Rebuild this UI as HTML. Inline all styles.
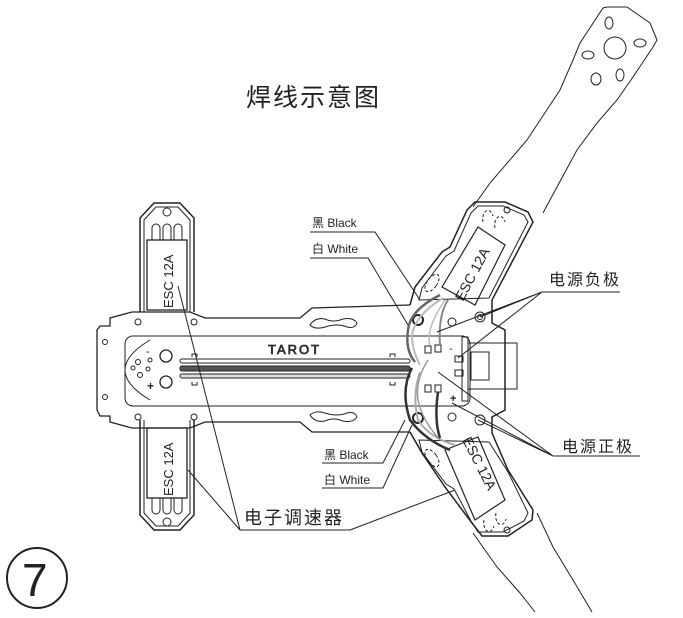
<!DOCTYPE html>
<html><head><meta charset="utf-8"><style>
html,body{margin:0;padding:0;background:#fff;}
svg{display:block}
text{font-family:"Liberation Sans","Noto Sans CJK SC",sans-serif;fill:#222}
</style></head><body>
<svg width="683" height="618" viewBox="0 0 683 618" xmlns="http://www.w3.org/2000/svg" fill="none" stroke="#222" stroke-width="1">
<text x="246" y="106" font-size="25" stroke="none" letter-spacing="2">焊线示意图</text>

<path d="M473,207 L490,183 L527,140 L560,90 L573,60 L580,43 L603,8 L607,7 L627,7 L650,23 L657,40 L653,47 L633,77 L617,100 L597,123 L577,150 L557,187 L543,213"/>
<circle cx="615" cy="48" r="11"/><ellipse cx="609" cy="23" rx="4" ry="6"/><ellipse cx="640" cy="43" rx="6" ry="4"/>
<ellipse cx="588" cy="55" rx="6" ry="4"/><ellipse cx="596" cy="79" rx="5" ry="6"/><ellipse cx="620" cy="75" rx="4" ry="6"/>
<path d="M473,533 L497,567 L520,593 L535,612"/>
<path d="M537,513 L553,547 L573,580 L592,612"/>

<path d="M140,312 L140,218 L154,203 L180,203 L194,218 L194,312" stroke-width="1.5"/>
<path d="M144,312 L144,220 L156,207 L178,207 L190,220 L190,312"/>
<circle cx="167" cy="212" r="4"/>
<path d="M152,240 v-12 a4,4 0 0 1 8,0 v12 M163,240 v-12 a4,4 0 0 1 8,0 v12 M174,240 v-12 a4,4 0 0 1 8,0 v12"/>
<rect x="147" y="240" width="40" height="70" stroke-width="1.3"/>
<text transform="translate(173,308) rotate(-90)" font-size="13" stroke="none">ESC 12A</text>
<path d="M140,420 L140,515 L154,530 L180,530 L194,515 L194,420" stroke-width="1.5"/>
<path d="M144,420 L144,513 L156,526 L178,526 L190,513 L190,420"/>
<circle cx="167" cy="522" r="4"/>
<path d="M152,498 v12 a4,4 0 0 0 8,0 v-12 M163,498 v12 a4,4 0 0 0 8,0 v-12 M174,498 v12 a4,4 0 0 0 8,0 v-12"/>
<rect x="147" y="428" width="40" height="70" stroke-width="1.3"/>
<text transform="translate(173,496) rotate(-90)" font-size="13" stroke="none">ESC 12A</text>

<path d="M410,305 L312,308 L300,318 L205,318 L190,312 L132,312 L110,318 L110,326 L100,326 L97,330 L97,410 L100,416 L110,416 L110,422 L132,428 L190,428 L205,422 L300,422 L312,432 L410,432" stroke-width="1.3"/>
<path d="M410,305 L415,287 L442,252 L450,247 L467,210 L475,202 L505,202 L528,212 L533,222 L512,262 L492,300 L492,323 L505,330 L505,410 L492,417 L492,433 L508,470 L533,510 L532,520 L508,536 L482,536 L472,523 L445,487 L422,453 L410,432" stroke-width="1.5"/>
<path d="M419,300 L422,288 L446,256 L454,251 L471,213 L478,206 L503,206 L524,215 L528,222 L508,261 L489,298 Z"/>
<path d="M419,440 L422,452 L446,484 L454,489 L471,521 L478,532 L503,532 L524,521 L528,513 L508,472 L489,442 Z"/>
<polygon points="478,227 505,245 475,305 442,287" stroke-width="1.2"/>
<polygon points="445,450 478,437 505,500 475,520" stroke-width="1.2"/>
<text transform="translate(463,302) rotate(-62)" font-size="14" stroke="none">ESC 12A</text>
<text transform="translate(462,440) rotate(63)" font-size="14" stroke="none">ESC 12A</text>
<ellipse cx="432" cy="283" rx="5" ry="10" transform="rotate(35 432 283)" stroke-dasharray="3,2"/>
<ellipse cx="432" cy="458" rx="5" ry="10" transform="rotate(-35 432 458)" stroke-dasharray="3,2"/>
<path d="M483,222 a5,8 0 0 1 10,-6 M495,228 a5,8 0 0 1 10,-6" stroke-dasharray="3,2"/>
<path d="M484,520 a5,8 0 0 0 10,6 M496,513 a5,8 0 0 0 10,6" stroke-dasharray="3,2"/>
<circle cx="507" cy="210" r="3"/><circle cx="507" cy="530" r="3"/>

<rect x="125" y="336" width="345" height="70" rx="8"/>
<circle cx="138" cy="322" r="3"/><circle cx="194" cy="322" r="3"/><circle cx="138" cy="417" r="3"/><circle cx="194" cy="417" r="3"/>
<circle cx="105" cy="342" r="2.5"/><circle cx="105" cy="397" r="2.5"/>
<path d="M310,325 q5,-8 15,-6 q8,4 18,0 q10,-2 14,4 q-2,6 -10,4 q-10,-4 -22,0 q-10,3 -15,-2z"/>
<path d="M310,415 q5,8 15,6 q8,-4 18,0 q10,2 14,-4 q-2,-6 -10,-4 q-10,4 -22,0 q-10,-3 -15,2z"/>
<path d="M150,340 Q125,355 125,370 Q125,385 150,400"/>
<circle cx="166" cy="356" r="6" stroke-width="1.3"/><circle cx="166" cy="382" r="6" stroke-width="1.3"/>
<circle cx="138" cy="362" r="2.5"/><circle cx="140" cy="375" r="2.5"/><circle cx="133" cy="368" r="2"/><circle cx="148" cy="369" r="2"/><circle cx="150" cy="360" r="2"/>
<text x="146" y="355" font-size="11" stroke="none">-</text>
<text x="147" y="390" font-size="12" stroke="none" font-weight="bold">+</text>
<text x="268" y="354" font-size="13" letter-spacing="2" fill="none" stroke="#333" stroke-width="0.8">TAROT</text>
<rect x="180" y="359" width="230" height="4" rx="2"/>
<rect x="180" y="366" width="230" height="5" fill="#555" rx="2"/>
<rect x="180" y="374" width="230" height="4" rx="2" fill="#ddd"/>
<path d="M192,357 v-3 h5 v3 M192,382 v3 h5 v-3 M390,357 v-3 h5 v3 M390,382 v3 h5 v-3"/>

<rect x="462" y="337" width="6" height="64"/>
<rect x="468" y="343" width="49" height="46"/>
<rect x="471" y="352" width="18" height="28"/>
<rect x="455" y="356" width="8" height="6"/><rect x="455" y="370" width="8" height="6"/>
<text x="449" y="352" font-size="11" stroke="none">-</text>
<text x="450" y="402" font-size="11" stroke="none" font-weight="bold">+</text>
<rect x="425" y="346" width="6" height="7"/><rect x="435" y="345" width="6" height="7"/>
<rect x="425" y="385" width="6" height="7"/><rect x="435" y="385" width="6" height="7"/>
<circle cx="418" cy="320" r="5" stroke-width="2"/><circle cx="418" cy="418" r="5" stroke-width="2"/>
<circle cx="452" cy="322" r="4"/><circle cx="452" cy="417" r="4"/>
<circle cx="480" cy="317" r="5"/><circle cx="480" cy="317" r="2.5"/><circle cx="480" cy="420" r="5"/>

<path d="M440,295 Q410,310 408,330 Q405,350 415,362" stroke="#666" stroke-width="2.5"/>
<path d="M443,298 Q415,315 412,335 Q412,350 420,365" stroke="#bbb" stroke-width="2"/>
<path d="M448,300 Q438,315 440,345" stroke="#888" stroke-width="2"/>
<path d="M445,300 Q425,330 430,345" stroke="#bbb" stroke-width="1.5"/>
<path d="M412,368 Q400,390 410,420 Q425,440 450,450" stroke="#333" stroke-width="2.5"/>
<path d="M420,372 Q412,395 418,420 Q430,438 455,445" stroke="#aaa" stroke-width="2"/>
<path d="M428,360 Q415,380 418,400 Q422,420 440,440" stroke="#999" stroke-width="1.5"/>
<path d="M438,392 Q434,420 440,438" stroke="#333" stroke-width="2.5"/>

<text x="312" y="227" font-size="12" stroke="none">黑 Black</text>
<path d="M310,232 H375 L420,300"/>
<text x="312" y="253" font-size="12" stroke="none">白 White</text>
<path d="M310,258 H368 L408,325"/>
<text x="324" y="459" font-size="12" stroke="none">黑 Black</text>
<path d="M322,463 H383 L405,420"/>
<text x="324" y="484" font-size="12" stroke="none">白 White</text>
<path d="M322,488 H383 L412,425"/>

<text x="549" y="285" font-size="16" stroke="none" letter-spacing="2">电源负极</text>
<path d="M542,292 H620"/>
<path d="M542,292 L437,332 M542,292 L458,358 M542,292 L480,317"/>
<text x="562" y="452" font-size="16" stroke="none" letter-spacing="2">电源正极</text>
<path d="M553,456 H640"/>
<path d="M553,456 L438,372 M553,456 L452,403 M553,456 L478,420"/>

<text x="244" y="524" font-size="18" stroke="none" letter-spacing="2">电子调速器</text>
<path d="M240,530 H350"/>
<path d="M240,530 L178,286 M240,530 L188,470 M350,530 L455,490"/>

<circle cx="37" cy="578" r="30" stroke-width="2"/>
<text x="22" y="596" font-size="46" stroke="none">7</text>
</svg>
</body></html>
